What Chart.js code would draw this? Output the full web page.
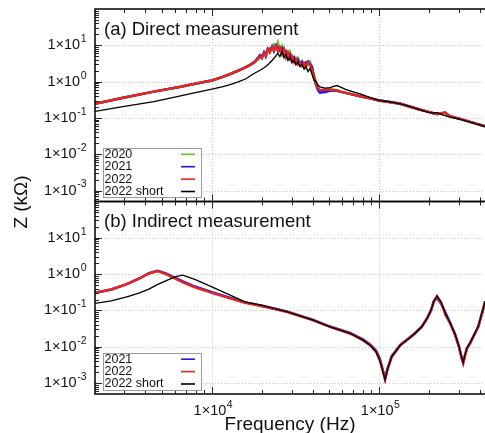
<!DOCTYPE html>
<html lang="en">
<head>
<meta charset="UTF-8">
<title>Z (kΩ) vs Frequency</title>
<script src="https://cdn.jsdelivr.net/npm/chart.js"></script>
<style>
  body { margin: 0; background: #fff; }
  #wrap { width: 485px; height: 433px; }
</style>
</head>
<body>
<div id="wrap"><canvas id="zChart" width="485" height="433"></canvas></div>
<script>
// (a) Direct measurement - frequency (Hz) and impedance (kOhm)
const freqA = [2000, 3000, 4500, 6500, 8500, 10000, 11500, 13000, 14500, 16000, 17000, 18000,
  19400, 19900, 20500, 21000, 21600, 22200, 22900, 23500, 24200, 24800,
  25500, 26300, 27000, 27700, 28500, 29300, 30100, 31000, 31800, 32700,
  33600, 34600, 35600, 36500, 37600, 38600, 39700, 40800, 42000, 43100,
  44300, 47500, 50900, 53500, 56000, 58400, 63000, 67000, 77000, 88000,
  100000, 118000, 134000, 150000, 175000, 200000, 211000, 222000, 235000,
  248000, 265000, 305000, 350000, 431000];
const zA2020 = [0.246, 0.366, 0.53, 0.72, 0.93, 1.08, 1.33, 1.65, 2.05, 2.5, 2.9, 3.4,
  4.6, 5.2, 5.6, 6.5, 7.2, 8.2, 8.0, 10.5, 9.0, 12.0,
  7.5, 9.5, 6.5, 7.2, 5.0, 6.5, 4.2, 4.8, 3.6, 4.4,
  3.0, 3.6, 2.8, 3.3, 3.0, 3.5, 2.4, 1.5, 0.9, 0.66,
  0.56, 0.6, 0.62, 0.6, 0.58, 0.54, 0.49, 0.46, 0.395, 0.35,
  0.303, 0.272, 0.245, 0.21, 0.17, 0.145, 0.135, 0.128, 0.133,
  0.14, 0.112, 0.094, 0.078, 0.059];
const zA2021 = [0.246, 0.366, 0.53, 0.72, 0.93, 1.08, 1.33, 1.65, 2.05, 2.5, 2.95, 3.5,
  5.3, 4.6, 6.4, 5.0, 8.0, 6.8, 9.2, 7.0, 10.0, 8.5,
  7.2, 8.2, 6.0, 6.6, 4.8, 5.6, 4.0, 4.6, 3.4, 4.0,
  3.1, 3.5, 2.7, 3.3, 3.6, 3.0, 2.6, 1.3, 0.8, 0.58,
  0.5, 0.52, 0.56, 0.56, 0.56, 0.53, 0.49, 0.46, 0.395, 0.35,
  0.303, 0.272, 0.245, 0.21, 0.17, 0.145, 0.135, 0.128, 0.133,
  0.14, 0.112, 0.094, 0.078, 0.059];
const zA2022 = [0.246, 0.366, 0.53, 0.72, 0.93, 1.08, 1.33, 1.65, 2.05, 2.5, 2.9, 3.4,
  5.0, 4.4, 6.0, 5.3, 7.8, 6.4, 8.8, 7.3, 9.6, 6.9,
  8.8, 5.7, 7.8, 4.7, 6.4, 4.2, 5.0, 3.4, 4.2, 3.0,
  3.4, 2.7, 3.2, 2.5, 3.4, 2.9, 2.1, 1.4, 0.87, 0.67,
  0.58, 0.6, 0.6, 0.58, 0.57, 0.53, 0.49, 0.46, 0.395, 0.35,
  0.303, 0.272, 0.245, 0.21, 0.17, 0.145, 0.135, 0.128, 0.133,
  0.14, 0.112, 0.094, 0.078, 0.059];
const zAShort = [0.152, 0.208, 0.283, 0.407, 0.533, 0.62, 0.72, 0.84, 1.0, 1.2, 1.45, 1.7,
  2.05, 2.2, 2.4, 2.6, 2.9, 3.3, 3.8, 4.4, 5.2, 6.0,
  4.9, 6.8, 4.5, 5.6, 3.8, 4.7, 3.3, 4.0, 2.9, 3.5,
  2.6, 3.0, 2.2, 2.6, 1.9, 2.3, 1.6, 1.1, 1.0, 0.8,
  0.72, 0.66, 0.68, 0.74, 0.78, 0.72, 0.61, 0.557, 0.46, 0.37,
  0.307, 0.275, 0.245, 0.21, 0.168, 0.14, 0.138, 0.139, 0.125,
  0.115, 0.106, 0.092, 0.077, 0.058];

// (b) Indirect measurement
const freqB = [2000, 2500, 3100, 3700, 4200, 4750, 5300, 6000, 6700, 7900,
  10000, 15800, 20000, 28000, 40000, 50900, 67000, 80000, 88300, 96000,
  101000, 105000, 108600, 112000, 119000, 134000, 160000, 180000, 194000,
  205000, 212000, 222000, 235000, 250000, 266000, 285000, 300000, 312000,
  318500, 325000, 335000, 350000, 392000, 431000];
const zB2021 = [0.305, 0.379, 0.53, 0.77, 1.06, 1.23, 1.05, 0.8, 0.63, 0.455,
  0.318, 0.167, 0.134, 0.094, 0.056, 0.036, 0.024, 0.016, 0.0115, 0.0078,
  0.0047, 0.0024, 0.0013, 0.0024, 0.0055, 0.0113, 0.0215, 0.036, 0.062,
  0.105, 0.175, 0.22, 0.156, 0.085, 0.046, 0.022, 0.0105, 0.005,
  0.0036, 0.0054, 0.009, 0.0125, 0.036, 0.175];
const zB2022 = [0.305, 0.379, 0.53, 0.76, 1.04, 1.21, 1.0, 0.762, 0.59, 0.43,
  0.305, 0.162, 0.131, 0.0916, 0.054, 0.0353, 0.0232, 0.0152, 0.011, 0.00724,
  0.00427, 0.00226, 0.00126, 0.00226, 0.00527, 0.011, 0.021, 0.0353, 0.0602,
  0.102, 0.173, 0.248, 0.162, 0.074, 0.0438, 0.021, 0.01, 0.0048,
  0.0036, 0.00527, 0.0089, 0.0123, 0.0353, 0.173];
const zBShort = [0.156, 0.184, 0.237, 0.305, 0.386, 0.52, 0.655, 0.843, 0.939, 0.714,
  0.447, 0.173, 0.137, 0.093, 0.055, 0.0355, 0.0235, 0.0152, 0.011, 0.0072,
  0.0042, 0.0022, 0.00125, 0.0023, 0.0053, 0.011, 0.021, 0.0355, 0.061,
  0.104, 0.176, 0.25, 0.17, 0.078, 0.046, 0.022, 0.0105, 0.005,
  0.0037, 0.0055, 0.0092, 0.0128, 0.037, 0.18];

// axis ticks and their labels (mantissa, exponent)
const xTicks = [1e4, 1e5];
const xTickLabels = [['1×10', '4'], ['1×10', '5']];
const yTicks = [1e1, 1e0, 1e-1, 1e-2, 1e-3];
const yTickLabels = [['1×10', '1'], ['1×10', '0'], ['1×10', '-1'], ['1×10', '-2'], ['1×10', '-3']];

const FONT = '"Liberation Sans", Arial, Helvetica, sans-serif';
const GREEN = '#5cbf34', BLUE = '#1a1ae6', RED = '#e8261e', BLACK = '#000000';

function pts(fs, zs) {
  return fs.map((f, i) => ({x: f, y: zs[i]}));
}

function seg(ctx, x1, y1, x2, y2) {
  ctx.beginPath();
  ctx.moveTo(x1, y1);
  ctx.lineTo(x2, y2);
  ctx.stroke();
}

// draws "1x10" with a raised exponent
function powLabel(ctx, lab, x, y, align) {
  ctx.font = '14.5px ' + FONT;
  const w1 = ctx.measureText(lab[0]).width;
  ctx.font = '10.5px ' + FONT;
  const w2 = ctx.measureText(lab[1]).width;
  let x0 = align === 'right' ? x - w1 - w2 : x - (w1 + w2) / 2;
  ctx.textAlign = 'left';
  ctx.textBaseline = 'middle';
  ctx.font = '14.5px ' + FONT;
  ctx.fillText(lab[0], x0, y);
  ctx.font = '10.5px ' + FONT;
  ctx.fillText(lab[1], x0 + w1 + 0.5, y - 6);
}

function minorValues(min, max) {
  const out = [];
  for (let e = -5; e <= 6; e++) {
    for (let m = 1; m <= 9; m++) {
      const v = m * Math.pow(10, e);
      if (v > min * 1.0001 && v < max * 0.9999) out.push({v, major: m === 1});
    }
  }
  return out;
}

const legends = {
  yA: [['2020', GREEN], ['2021', BLUE], ['2022', RED], ['2022 short', BLACK]],
  yB: [['2021', BLUE], ['2022', RED], ['2022 short', BLACK]]
};
const titles = {yA: '(a) Direct measurement', yB: '(b) Indirect measurement'};

const panelFrame = {
  id: 'panelFrame',
  beforeDatasetsDraw(chart) {
    const {ctx, scales} = chart;
    const x = scales.x;
    ctx.save();
    ctx.strokeStyle = '#c2c2c2';
    ctx.lineWidth = 1;
    ctx.setLineDash([1, 2]);
    ['yA', 'yB'].forEach(id => {
      const ys = scales[id];
      yTicks.forEach(v => {
        const py = Math.round(ys.getPixelForValue(v)) + 0.5;
        seg(ctx, x.left, py, x.right, py);
      });
      xTicks.forEach(v => {
        const px = Math.round(x.getPixelForValue(v)) + 0.5;
        seg(ctx, px, ys.top, px, ys.bottom);
      });
    });
    ctx.restore();
  },
  afterDatasetsDraw(chart) {
    const {ctx, scales} = chart;
    const x = scales.x;
    ctx.save();
    ctx.fillStyle = '#111';
    ['yA', 'yB'].forEach(id => {
      const ys = scales[id];
      // ticks
      ctx.strokeStyle = '#222';
      ctx.lineWidth = 1;
      minorValues(x.min, x.max).forEach(t => {
        const px = Math.round(x.getPixelForValue(t.v)) + 0.5;
        const len = t.major ? 7 : 4;
        seg(ctx, px, ys.bottom, px, ys.bottom - len);
        seg(ctx, px, ys.top, px, ys.top + len);
      });
      minorValues(ys.min, ys.max).forEach(t => {
        const py = Math.round(ys.getPixelForValue(t.v)) + 0.5;
        const len = t.major ? 7 : 4;
        seg(ctx, x.left, py, x.left + len, py);
      });
      // frame
      ctx.strokeStyle = '#000';
      ctx.lineWidth = 1.5;
      ctx.strokeRect(x.left, ys.top, x.right - x.left + 2, ys.bottom - ys.top);
      // y tick labels
      yTicks.forEach((v, i) => {
        powLabel(ctx, yTickLabels[i], 86, ys.getPixelForValue(v), 'right');
      });
      // panel title
      ctx.font = '18.5px ' + FONT;
      ctx.textAlign = 'left';
      ctx.textBaseline = 'middle';
      ctx.fillText(titles[id], 104, ys.top + 20.5);
      // legend
      const rows = legends[id];
      const rowH = 12.4;
      const boxBottom = ys.bottom - 4.5;
      const lastRow = boxBottom - 5.5;
      const firstRow = lastRow - (rows.length - 1) * rowH;
      const boxTop = firstRow - 6.5;
      ctx.fillStyle = '#fff';
      ctx.fillRect(103, boxTop, 98, boxBottom - boxTop);
      ctx.strokeStyle = '#9a9a9a';
      ctx.lineWidth = 1;
      ctx.strokeRect(103.5, Math.round(boxTop) + 0.5, 98, Math.round(boxBottom - boxTop));
      ctx.font = '12.5px ' + FONT;
      rows.forEach((r, i) => {
        const cy = firstRow + i * rowH;
        ctx.fillStyle = '#111';
        ctx.fillText(r[0], 104.5, cy);
        ctx.strokeStyle = r[1];
        ctx.lineWidth = 1.6;
        seg(ctx, 181, cy, 195, cy);
      });
      ctx.fillStyle = '#111';
    });
    // x tick labels
    xTicks.forEach((v, i) => {
      powLabel(ctx, xTickLabels[i], x.getPixelForValue(v) + 1, 411, 'center');
    });
    // axis titles
    ctx.font = '19px ' + FONT;
    ctx.textAlign = 'center';
    ctx.textBaseline = 'middle';
    ctx.fillText('Frequency (Hz)', 290, 425);
    ctx.translate(22, 202);
    ctx.rotate(-Math.PI / 2);
    ctx.fillText('Z (kΩ)', 0, 0);
    ctx.restore();
  }
};

const hidden = {grid: {display: false}, border: {display: false}, ticks: {display: false}};

new Chart(document.getElementById('zChart'), {
  type: 'line',
  data: {
    datasets: [
      {label: '2022 short', data: pts(freqA, zAShort), yAxisID: 'yA', borderColor: BLACK, borderWidth: 1.3, order: 0},
      {label: '2022', data: pts(freqA, zA2022), yAxisID: 'yA', borderColor: RED, borderWidth: 2.5, order: 1},
      {label: '2021', data: pts(freqA, zA2021), yAxisID: 'yA', borderColor: BLUE, borderWidth: 2.5, order: 2},
      {label: '2020', data: pts(freqA, zA2020), yAxisID: 'yA', borderColor: GREEN, borderWidth: 2.5, order: 3},
      {label: '2022 short', data: pts(freqB, zBShort), yAxisID: 'yB', borderColor: BLACK, borderWidth: 1.3, order: 0},
      {label: '2022', data: pts(freqB, zB2022), yAxisID: 'yB', borderColor: RED, borderWidth: 2.5, order: 1},
      {label: '2021', data: pts(freqB, zB2021), yAxisID: 'yB', borderColor: BLUE, borderWidth: 2.5, order: 2}
    ]
  },
  options: {
    responsive: false,
    animation: false,
    layout: {padding: {top: 9, left: 0, right: 0, bottom: 0}},
    elements: {point: {radius: 0}, line: {tension: 0, fill: false}},
    plugins: {legend: {display: false}, tooltip: {enabled: false}},
    scales: {
      x: Object.assign({type: 'logarithmic', min: 2000, max: 430000,
        afterFit: s => { s.height = 39; }}, hidden),
      yA: Object.assign({type: 'logarithmic', position: 'left', stack: 'z', stackWeight: 1, weight: 2,
        min: 5e-4, max: 100, afterFit: s => { s.width = 95; }}, hidden),
      yB: Object.assign({type: 'logarithmic', position: 'left', stack: 'z', stackWeight: 1, weight: 1,
        min: 5e-4, max: 100, afterFit: s => { s.width = 95; }}, hidden)
    }
  },
  plugins: [panelFrame]
});
</script>
</body>
</html>
